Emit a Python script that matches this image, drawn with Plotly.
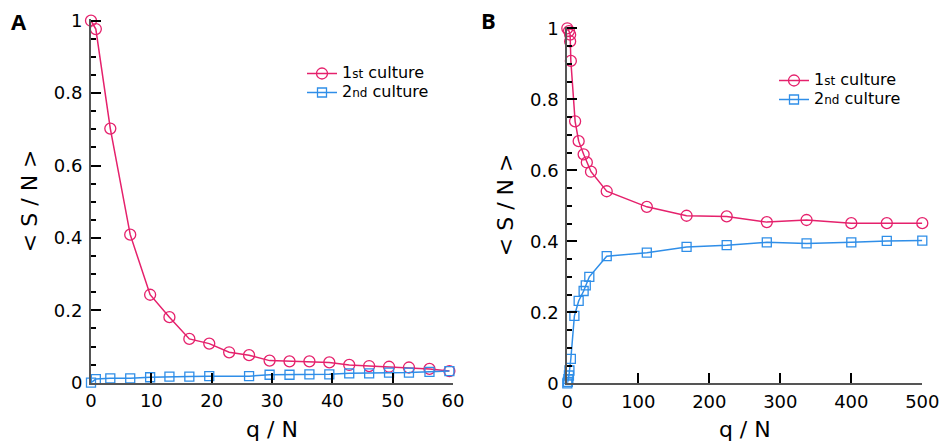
import plotly.graph_objects as go

# Panel A data
a_x_first = [0, 0.8, 3.2, 6.5, 9.8, 13.0, 16.3, 19.6, 22.9, 26.2, 29.6, 32.9, 36.2, 39.5, 42.8, 46.1, 49.4, 52.7, 56.1, 59.4]
a_y_first = [1.0, 0.977, 0.702, 0.409, 0.243, 0.181, 0.121, 0.108, 0.084, 0.076, 0.061, 0.059, 0.059, 0.056, 0.049, 0.046, 0.044, 0.042, 0.038, 0.032]
a_x_second = [0, 0.8, 3.2, 6.5, 9.8, 13.0, 16.3, 19.6, 26.2, 29.6, 32.9, 36.2, 39.5, 42.8, 46.1, 49.4, 52.7, 56.1, 59.4]
a_y_second = [0.0, 0.010, 0.012, 0.012, 0.015, 0.017, 0.017, 0.018, 0.018, 0.022, 0.022, 0.023, 0.023, 0.026, 0.026, 0.028, 0.028, 0.030, 0.032]

# Panel B data
b_x_first = [0, 2.4, 4, 4, 5, 11, 16, 23, 27.5, 33.4, 55.5, 112, 168, 224.5, 281, 337, 400, 450, 500]
b_y_first = [1.0, 0.992, 0.982, 0.963, 0.908, 0.738, 0.682, 0.645, 0.622, 0.596, 0.541, 0.497, 0.472, 0.470, 0.454, 0.460, 0.451, 0.451, 0.451]
b_x_second = [0, 0.8, 1.5, 2.3, 3, 5, 10, 16, 23, 26, 31, 55.5, 112, 168, 224.5, 281, 337, 400, 450, 500]
b_y_second = [0.0, 0.004, 0.012, 0.022, 0.036, 0.069, 0.190, 0.232, 0.260, 0.276, 0.300, 0.358, 0.368, 0.384, 0.389, 0.397, 0.394, 0.397, 0.401, 0.402]

names = ["<span style='font-size:16px'>1<span style='font-size:12px'>st</span> culture</span>",
         "<span style='font-size:16px'>2<span style='font-size:12px'>nd</span> culture</span>"]
panel_labels = ["A", "B"]

RED = "#E5216C"
BLUE = "#2F8EE8"
FONT = "DejaVu Sans, Verdana, sans-serif"

W, H = 941, 443

def fx(px):
    return px / W

def fy(py):
    return 1 - py / H

fig = go.Figure()

def add_series(x, y, color, symbol, size, name, xa, ya, legend):
    fig.add_trace(go.Scatter(
        x=x, y=y, mode="lines+markers", name=name,
        line=dict(color=color, width=1.5),
        marker=dict(symbol=symbol, size=size, color=color,
                    line=dict(color=color, width=1.3)),
        xaxis=xa, yaxis=ya, legend=legend, cliponaxis=False,
    ))

add_series(a_x_first, a_y_first, RED, "circle-open", 11, names[0], "x", "y", "legend")
add_series(a_x_second, a_y_second, BLUE, "square-open", 9, names[1], "x", "y", "legend")
add_series(b_x_first, b_y_first, RED, "circle-open", 11, names[0], "x2", "y2", "legend2")
add_series(b_x_second, b_y_second, BLUE, "square-open", 9, names[1], "x2", "y2", "legend2")

def xax(domain, rng, dtick):
    return dict(domain=domain, range=rng, dtick=dtick, tick0=0, automargin=False,
                showline=True, linecolor="#555555", linewidth=2,
                ticks="inside", ticklen=10, tickwidth=1.5, tickcolor="black",
                showgrid=False, zeroline=False,
                tickfont=dict(family=FONT, size=18, color="black"),
                title=dict(text="q / N", font=dict(family=FONT, size=22, color="black"), standoff=11),
                ticklabelstandoff=1)

def yax(domain, anchor):
    return dict(domain=domain, range=[0, 1.005], dtick=0.2, tick0=0, anchor=anchor, automargin=False,
                showline=True, linecolor="#555555", linewidth=2,
                ticks="inside", ticklen=10, tickwidth=1.5, tickcolor="black",
                minor=dict(dtick=0.05, ticks="inside", ticklen=5, tickwidth=1.5, tickcolor="black"),
                showgrid=False, zeroline=False,
                tickformat="~g",
                tickfont=dict(family=FONT, size=18, color="black"),
                title=dict(text="< S / N >", font=dict(family=FONT, size=22, color="black"), standoff=10),
                ticklabelstandoff=3)

fig.update_layout(
    width=W, height=H,
    margin=dict(l=0, r=0, t=0, b=0),
    paper_bgcolor="white", plot_bgcolor="white",
    xaxis=dict(**xax([fx(91), fx(453)], [0, 60], 10), anchor="y"),
    yaxis=yax([fy(382.7), fy(18.9)], "x"),
    xaxis2=dict(**xax([fx(567.3), fx(922.3)], [0, 500], 100), anchor="y2"),
    yaxis2=yax([fy(383.3), fy(26.5)], "x2"),
    legend=dict(x=fx(302), y=fy(59), xanchor="left", yanchor="top",
                bgcolor="rgba(0,0,0,0)", font=dict(family=FONT, size=12, color="black"),
                tracegroupgap=0, itemwidth=30),
    legend2=dict(x=fx(774), y=fy(66), xanchor="left", yanchor="top",
                 bgcolor="rgba(0,0,0,0)", font=dict(family=FONT, size=12, color="black"),
                 tracegroupgap=0, itemwidth=30),
    showlegend=True,
)

fig.add_annotation(text="<b>%s</b>" % panel_labels[0], x=fx(9), y=fy(4), xref="paper", yref="paper",
                   xanchor="left", yanchor="top", showarrow=False,
                   font=dict(family="Open Sans, sans-serif", size=22, color="black"))
fig.add_annotation(text="<b>%s</b>" % panel_labels[1], x=fx(479), y=fy(3), xref="paper", yref="paper",
                   xanchor="left", yanchor="top", showarrow=False,
                   font=dict(family="Open Sans, sans-serif", size=22, color="black"))

fig.write_html("out.html",
               config={"displayModeBar": False},
               post_script="document.body.style.margin='0';document.body.style.overflow='hidden';")
